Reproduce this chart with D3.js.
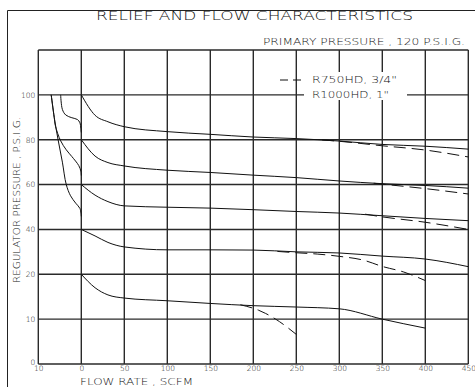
<!DOCTYPE html>
<html>
<head>
<meta charset="utf-8">
<script src="https://cdn.jsdelivr.net/npm/d3@7"></script>
<style>
  body { margin: 0; background: #fff; }
  text { font-family: "DejaVu Sans", sans-serif; font-weight: 200; fill: #111; }
</style>
</head>
<body>
<script>
// x ticks: left cell is relief flow (10 -> 0), then forward flow
const xTicks = [-10, 0, 50, 100, 150, 200, 250, 300, 350, 400, 450];
// y grid is evenly spaced although the values are not
const yTicks = [0, 10, 20, 40, 60, 80, 100, 120];
const yLabels = [0, 10, 20, 40, 60, 80, 100];

// R1000HD, 1" (solid)  [flow SCFM, P.S.I.G.]
const solid100 = [[0,100],[16,90.9],[31,88],[50,85.8],[100,83.6],[150,82.4],[200,81.2],[250,80.5],[300,79.4],[350,77.9],[400,77.1],[450,75.8]];
const solid80 = [[0,80],[16,72.7],[31,69.8],[50,68.3],[100,66.4],[150,65.4],[200,64.2],[250,63.1],[300,61.6],[350,60.4],[400,59.6],[450,58.4]];
const solid60 = [[0,60],[16,55.3],[31,52.4],[50,50.5],[100,49.9],[150,49.5],[200,48.8],[250,48.0],[300,47.3],[350,46.1],[400,44.9],[450,43.9]];
const solid40 = [[0,40],[16,37.1],[31,34.2],[50,32.2],[100,30.9],[150,30.9],[200,30.8],[250,30.0],[300,29.5],[350,28.1],[400,26.8],[450,23.4]];
const solid20 = [[0,20],[16,17],[31,15.4],[50,14.7],[100,14.1],[150,13.5],[200,13],[250,12.7],[300,12.3],[350,10],[400,8]];

// R750HD, 3/4" (dashed) where it leaves the solid curve
const dashed100 = [[280,79.9],[300,79.3],[350,77.3],[400,75.4],[450,72.3]];
const dashed80 = [[340,60.6],[350,60.2],[400,58.2],[450,55.8]];
const dashed60 = [[330,46.8],[350,45.6],[400,43.2],[450,40]];
const dashed40 = [[228,30.2],[250,29.6],[275,29.0],[300,28.0],[328,26.3],[350,23.5],[375,21.0],[400,18.6]];
const dashed20 = [[185,13.2],[206,12.0],[214,11.3],[226,10],[250,6.6]];

// relief curves (left cell)
const reliefA = [[-7,100],[-6.3,90],[-5.4,80],[-4.4,70],[-3.5,60],[-2.5,55],[-1.3,51.7],[-0.3,49.3],[0,45.8]];
const reliefB = [[-4.8,100],[-4.4,93.5],[-3.6,91],[-2.2,89.8],[-0.9,89],[-0.3,87.5],[-0.1,85],[0,83.2]];
const reliefC = [[-7,100],[-6.3,90],[-6.0,86],[-4.8,79.5],[-3.5,75.5],[-2.2,72.5],[-0.6,68.5],[-0.1,66],[0,64]];

const width = 475, height = 387;
const plotLeft = 38.3, plotRight = 468.3, plotTop = 50, plotBottom = 364;

const svg = d3.select("body")
  .append("svg")
  .attr("width", width)
  .attr("height", height);

const x = d3.scaleLinear()
  .domain(xTicks)
  .range(xTicks.map(function (d, i) { return plotLeft + i * (plotRight - plotLeft) / (xTicks.length - 1); }));

const y = d3.scaleLinear()
  .domain(yTicks)
  .range(yTicks.map(function (d, i) { return plotBottom - i * (plotBottom - plotTop) / (yTicks.length - 1); }));

// outer frame
svg.append("path")
  .attr("d", "M7.5," + height + "V10.5H" + (width + 2))
  .attr("fill", "none")
  .attr("stroke", "#222")
  .attr("stroke-width", 1);

// title
svg.append("text")
  .attr("x", 96).attr("y", 20)
  .attr("font-size", 11.5)
  .attr("textLength", 317)
  .attr("lengthAdjust", "spacingAndGlyphs")
  .text("RELIEF  AND  FLOW  CHARACTERISTICS");

svg.append("text")
  .attr("x", 263).attr("y", 44.5)
  .attr("font-size", 8)
  .attr("textLength", 202)
  .attr("lengthAdjust", "spacingAndGlyphs")
  .text("PRIMARY  PRESSURE  ,  120  P.S.I.G.");

// grid
const grid = svg.append("g")
  .attr("stroke", "#2a2a2a")
  .attr("stroke-width", 1.4);

grid.selectAll(".vgrid")
  .data(xTicks)
  .enter()
  .append("line")
  .attr("x1", function (d) { return x(d); })
  .attr("x2", function (d) { return x(d); })
  .attr("y1", plotTop)
  .attr("y2", plotBottom);

grid.selectAll(".hgrid")
  .data(yTicks)
  .enter()
  .append("line")
  .attr("x1", plotLeft)
  .attr("x2", plotRight)
  .attr("y1", function (d) { return y(d); })
  .attr("y2", function (d) { return y(d); });

// tick labels
svg.append("g")
  .attr("transform", "translate(0," + plotBottom + ")")
  .call(d3.axisBottom(x).tickValues(xTicks).tickSize(0).tickPadding(2)
    .tickFormat(function (d) { return Math.abs(d); }))
  .call(function (g) { g.select(".domain").remove(); })
  .selectAll("text")
  .attr("font-family", "DejaVu Sans")
  .attr("font-size", 7.5)
  .attr("fill", "#111");

svg.append("g")
  .attr("transform", "translate(" + (plotLeft - 3) + ",0)")
  .call(d3.axisLeft(y).tickValues(yLabels).tickSize(0).tickPadding(0))
  .call(function (g) { g.select(".domain").remove(); })
  .selectAll("text")
  .attr("font-family", "DejaVu Sans")
  .attr("font-size", 7.5)
  .attr("fill", "#111")
  .attr("dy", function (d) { return d === 0 ? "0" : "0.32em"; });

// axis titles
svg.append("text")
  .attr("transform", "translate(20,283) rotate(-90)")
  .attr("font-size", 8)
  .attr("textLength", 166)
  .attr("lengthAdjust", "spacingAndGlyphs")
  .text("REGULATOR  PRESSURE  ,  P.S.I.G.");

svg.append("text")
  .attr("x", 80).attr("y", 385)
  .attr("font-size", 8)
  .attr("textLength", 113)
  .attr("lengthAdjust", "spacingAndGlyphs")
  .text("FLOW  RATE  ,  SCFM");

// legend
svg.append("rect")
  .attr("x", 304).attr("y", 72)
  .attr("width", 103).attr("height", 28)
  .attr("fill", "#fff");

svg.append("line")
  .attr("x1", 280).attr("x2", 303)
  .attr("y1", 80).attr("y2", 80)
  .attr("stroke", "#111")
  .attr("stroke-dasharray", "8,5");

svg.append("text")
  .attr("x", 312).attr("y", 83)
  .attr("font-size", 8)
  .attr("textLength", 85)
  .attr("lengthAdjust", "spacingAndGlyphs")
  .text("R750HD,  3/4\"");

svg.append("text")
  .attr("x", 312).attr("y", 97.5)
  .attr("font-size", 8)
  .attr("textLength", 77)
  .attr("lengthAdjust", "spacingAndGlyphs")
  .text("R1000HD,  1\"");

// curves
const line = d3.line()
  .x(function (d) { return x(d[0]); })
  .y(function (d) { return y(d[1]); })
  .curve(d3.curveMonotoneX);

const reliefLine = d3.line()
  .x(function (d) { return x(d[0]); })
  .y(function (d) { return y(d[1]); })
  .curve(d3.curveCatmullRom.alpha(0.5));

const curves = svg.append("g")
  .attr("fill", "none")
  .attr("stroke", "#111")
  .attr("stroke-width", 1);

curves.selectAll(".solid")
  .data([solid100, solid80, solid60, solid40, solid20])
  .enter()
  .append("path")
  .attr("d", line);

curves.selectAll(".dashed")
  .data([dashed100, dashed80, dashed60, dashed40, dashed20])
  .enter()
  .append("path")
  .attr("stroke-dasharray", "12,6")
  .attr("d", line);

curves.selectAll(".relief")
  .data([reliefA, reliefB, reliefC])
  .enter()
  .append("path")
  .attr("d", reliefLine);
</script>
</body>
</html>
